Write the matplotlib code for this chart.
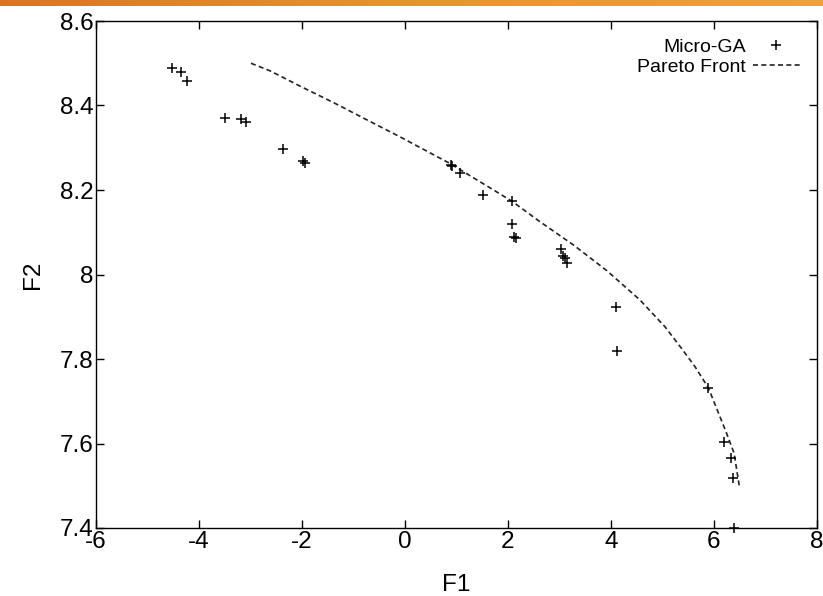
import matplotlib
matplotlib.use("Agg")
import matplotlib.pyplot as plt
import numpy as np
from matplotlib.colors import LinearSegmentedColormap

plt.rcParams['font.family'] = ['Liberation Sans', 'DejaVu Sans']

# Micro-GA solutions
ga_f1 = [-4.53, -4.35, -4.24, -3.50, -3.18, -3.09, -2.37, -1.98, -1.95,
         0.89, 0.92, 1.06, 1.52, 2.07, 2.08, 2.12, 2.15, 3.02, 3.07, 3.10, 3.15,
         4.10, 4.12, 5.89, 6.19, 6.33, 6.37, 6.39]
ga_f2 = [8.489, 8.479, 8.457, 8.371, 8.367, 8.360, 8.298, 8.268, 8.264,
         8.258, 8.256, 8.240, 8.187, 8.174, 8.119, 8.089, 8.086, 8.060, 8.044, 8.040, 8.028,
         7.923, 7.820, 7.732, 7.604, 7.566, 7.519, 7.400]

# Pareto front
pf_f1 = [-2.99, -2.62, -2.04, -1.39, -0.74, -0.10, 0.87, 2.07, 2.62, 3.27, 3.92,
         4.56, 5.05, 5.37, 5.63, 5.89, 6.245, 6.39, 6.49]
pf_f2 = [8.500, 8.482, 8.446, 8.407, 8.366, 8.326, 8.263, 8.174, 8.125, 8.070, 8.009,
         7.940, 7.876, 7.825, 7.782, 7.732, 7.624, 7.577, 7.500]

x_ticks = [-6, -4, -2, 0, 2, 4, 6, 8]
y_ticks = [7.4, 7.6, 7.8, 8.0, 8.2, 8.4, 8.6]
y_tick_labels = ['7.4', '7.6', '7.8', '8', '8.2', '8.4', '8.6']

fig = plt.figure(figsize=(8.23, 5.96), dpi=100)

# decorative orange bar at top
bar = fig.add_axes([0, 1 - 6/596, 1, 6/596])
cmap = LinearSegmentedColormap.from_list('o', ['#de7420', '#e7952a', '#eaa43a'])
bar.imshow(np.linspace(0, 1, 256)[None, :], aspect='auto', cmap=cmap)
bar.axis('off')

ax = fig.add_axes([96/823, 1 - 528/596, (817-96)/823, (528-21)/596])
ax.plot(pf_f1, pf_f2, color='#222222', lw=1.2, dashes=(3, 2), label='Pareto Front')
ax.plot(ga_f1, ga_f2, ls='none', marker='+', ms=6.5, mew=1.1, color='black',
        label='Micro-GA', clip_on=False)

ax.set_xlim(-6, 8)
ax.set_ylim(7.4, 8.6)
ax.set_xticks(x_ticks)
ax.set_xticklabels([str(v) for v in x_ticks])
ax.set_yticks(y_ticks)
ax.set_yticklabels(y_tick_labels)
ax.tick_params(direction='in', length=6, width=1, top=True, right=True,
               labelsize=17.5, pad=2)
for s in ax.spines.values():
    s.set_linewidth(1)
ax.set_xlabel('F1', fontsize=17.5, labelpad=15)
ax.set_ylabel('F2', fontsize=17.5, labelpad=11)

handles, labels = ax.get_legend_handles_labels()
leg = ax.legend(handles[::-1], labels[::-1], loc='upper right', frameon=False,
                markerfirst=False, fontsize=14, handlelength=2.4,
                borderaxespad=0.5, labelspacing=0.1, handletextpad=0.35)

fig.savefig('out.png', dpi=100)
